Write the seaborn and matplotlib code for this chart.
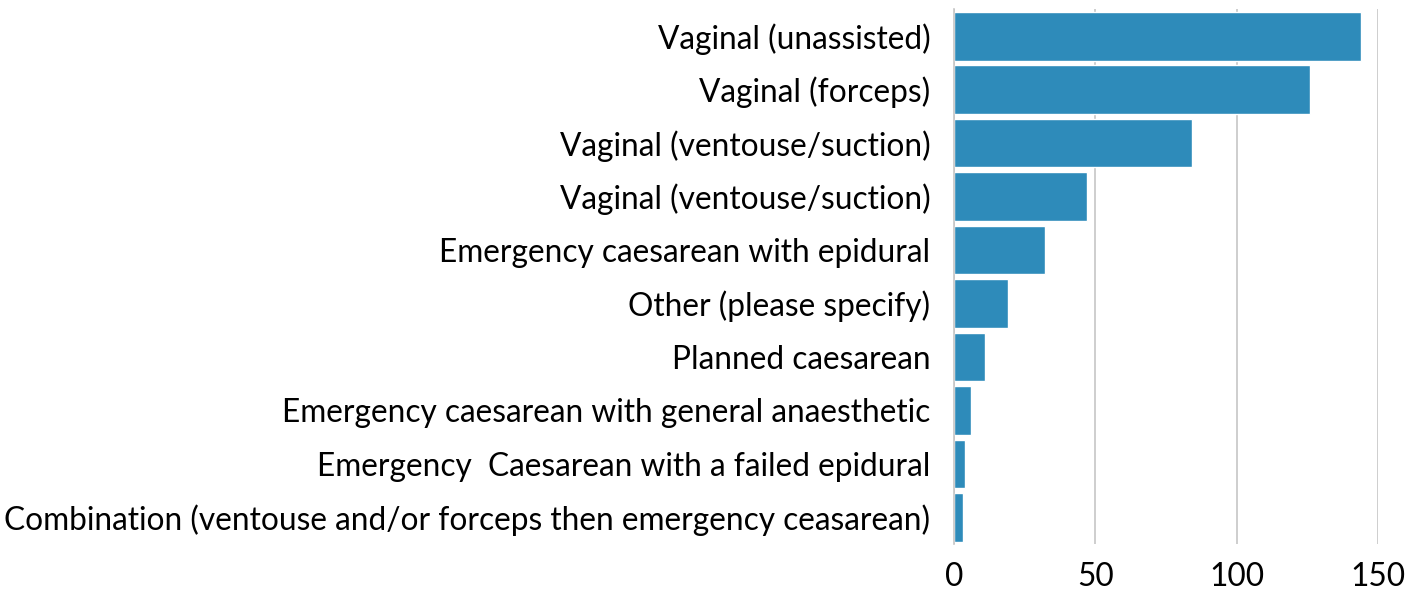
import pandas as pd
import matplotlib.pyplot as plt
import seaborn as sns

# delivery method counts
methods = [
    'Vaginal (unassisted)',
    'Vaginal (forceps)',
    'Vaginal (ventouse/suction)',
    'Vaginal (ventouse/suction)',
    'Emergency caesarean with epidural',
    'Other (please specify)',
    'Planned caesarean',
    'Emergency caesarean with general anaesthetic',
    'Emergency  Caesarean with a failed epidural',
    'Combination (ventouse and/or forceps then emergency ceasarean)',
]
counts = [144, 126, 84, 47, 32, 19, 11, 6, 4, 3]
x_ticks = [0, 50, 100, 150]

# two rows share a label, so plot on row index and relabel afterwards
df = pd.DataFrame({'row': [str(i) for i in range(len(methods))], 'count': counts})

sns.set_theme(style='white')
plt.rcParams['font.family'] = ['Lato', 'DejaVu Sans']

fig = plt.figure(figsize=(14.21, 5.92), dpi=100)
ax = fig.add_axes([0.6714, 0.081, 0.2985, 0.903])

sns.barplot(data=df, y='row', x='count', color='#2E8BBA', saturation=1,
            width=0.91, ax=ax, zorder=2)

ax.set_yticks(range(len(methods)))
ax.set_yticklabels(methods)
ax.set_xlim(0, 150)
ax.set_ylim(9.5, -0.5)
ax.set_xticks(x_ticks)
ax.xaxis.grid(True, color='#c6c6c6', linewidth=1.2, zorder=0)
ax.set_axisbelow(True)
ax.set_xlabel('')
ax.set_ylabel('')
for s in ['top', 'right', 'bottom']:
    ax.spines[s].set_visible(False)
ax.spines['left'].set_color('#c6c6c6')
ax.spines['left'].set_linewidth(1.2)
ax.tick_params(axis='y', length=0, pad=17, labelsize=22.8, labelcolor='#000000')
ax.tick_params(axis='x', length=0, pad=13, labelsize=22.8, labelcolor='#000000')

fig.savefig('out.png', dpi=100)
